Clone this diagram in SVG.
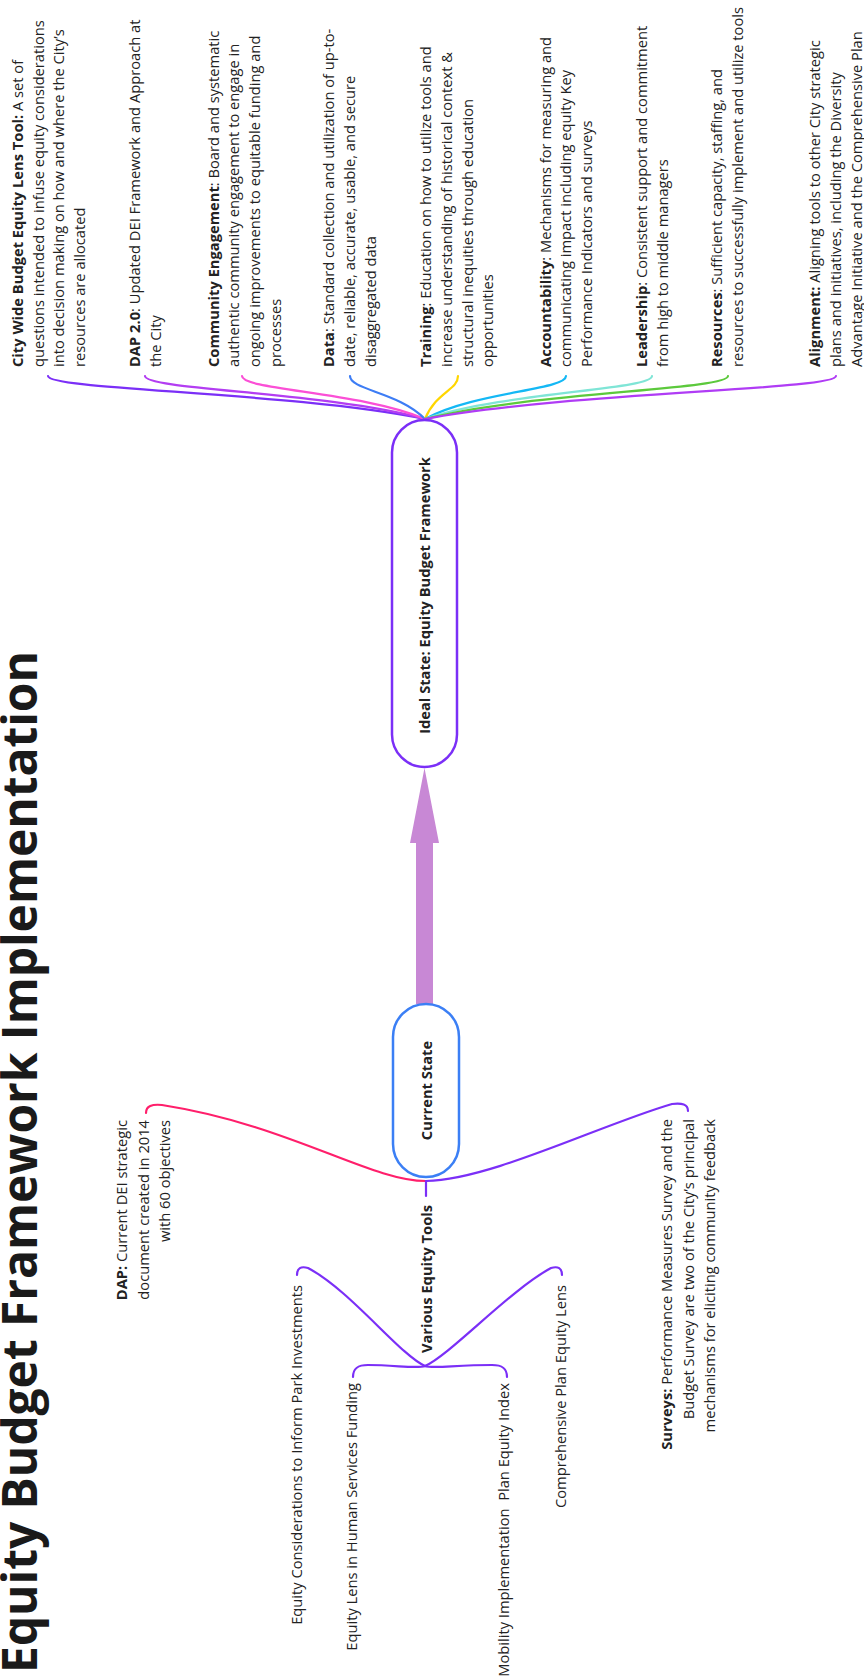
<svg xmlns="http://www.w3.org/2000/svg" width="864" height="1679" viewBox="0 0 864 1679">
<style>
.t{font-family:"Open Sans","Noto Sans","Liberation Sans",sans-serif;font-size:14.7px;fill:#222}
.b{font-weight:700}
.title{font-family:"Open Sans","Noto Sans","Liberation Sans",sans-serif;font-size:48px;font-weight:700;fill:#1a1a1a}
.c{fill:none;stroke-width:2.2;stroke-linecap:round}
.node{fill:#fff;stroke-width:2.5}
</style>
<rect width="864" height="1679" fill="#fff"/>
<g id="title">
<text class="title" transform="rotate(-90)" x="-1673" y="37" textLength="1022" lengthAdjust="spacing">Equity Budget Framework Implementation</text>
</g>
<g id="connectors">
<path class="c" stroke="#7b2ff7" d="M48,376 C48,390 293,392 425,419"/>
<path class="c" stroke="#b33df2" d="M145,376 C145,390 327,392 425,419"/>
<path class="c" stroke="#fb4fd6" d="M242,376 C242,390 361,392 425,419"/>
<path class="c" stroke="#3d7df5" d="M350,376 C350,390 399,392 425,419"/>
<path class="c" stroke="#ffd600" d="M458,376 C458,390 436,392 425,419"/>
<path class="c" stroke="#14b8f5" d="M566,376 C566,390 474,392 425,419"/>
<path class="c" stroke="#7fe5d6" d="M652,376 C652,390 504,392 425,419"/>
<path class="c" stroke="#5cc93c" d="M728,376 C728,390 531,392 425,419"/>
<path class="c" stroke="#b03cf5" d="M836,376 C836,390 569,392 425,419"/>
<path fill="#c888d5" d="M416,1004 L416,843 L410,843 L424.5,768 L439,843 L433,843 L433,1004 Z"/>
<path class="c" stroke="#ff1f6b" d="M146,1113 C146,1106 152,1104 162,1105 C290,1125 370,1181 426,1181"/>
<path class="c" stroke="#7b2ff7" d="M688,1111 C688,1104 682,1103 672,1104 C600,1125 490,1180 426,1181"/>
<path class="c" stroke="#7b2ff7" d="M426,1181 L426,1196"/>
<path class="c" stroke="#7b2ff7" d="M297,1275 C297,1268 301,1266 308,1268 C350,1290 400,1355 425,1366"/>
<path class="c" stroke="#7b2ff7" d="M353,1377 C353,1368 358,1365 368,1365 C395,1365 418,1369 425,1366"/>
<path class="c" stroke="#7b2ff7" d="M507,1377 C507,1368 502,1365 492,1365 C455,1365 432,1369 425,1366"/>
<path class="c" stroke="#7b2ff7" d="M562,1275 C562,1268 558,1266 551,1268 C510,1290 450,1355 425,1366"/>
</g>
<g id="ideal-state">
<rect class="node" stroke="#7b2ff7" x="392" y="420" width="65" height="347" rx="32.5"/>
<text class="t b" transform="rotate(-90)" x="-595.5" y="430" text-anchor="middle">Ideal State: Equity Budget Framework</text>
</g>
<g id="current-state">
<rect class="node" stroke="#3b7ff5" x="393" y="1004" width="66" height="173" rx="33"/>
<text class="t b" transform="rotate(-90)" x="-1090.5" y="432" text-anchor="middle">Current State</text>
</g>
<g id="city-wide">
<text class="t" transform="rotate(-90)"><tspan x="-367" y="23"><tspan class="b">City Wide Budget Equity Lens Tool:</tspan> A set of</tspan><tspan x="-367" y="43.6">questions intended to infuse equity considerations</tspan><tspan x="-367" y="64.2">into decision making on how and where the City’s</tspan><tspan x="-367" y="84.8">resources are allocated</tspan></text>
</g>
<g id="dap-2">
<text class="t" transform="rotate(-90)"><tspan x="-367" y="140"><tspan class="b">DAP 2.0</tspan>: Updated DEI Framework and Approach at</tspan><tspan x="-367" y="160.6">the City</tspan></text>
</g>
<g id="community-engagement">
<text class="t" transform="rotate(-90)"><tspan x="-367" y="218.5"><tspan class="b">Community Engagement</tspan>: Board and systematic</tspan><tspan x="-367" y="239.2">authentic community engagement to engage in</tspan><tspan x="-367" y="259.9">ongoing improvements to equitable funding and</tspan><tspan x="-367" y="280.6">processes</tspan></text>
</g>
<g id="data">
<text class="t" transform="rotate(-90)"><tspan x="-367" y="334"><tspan class="b">Data</tspan>: Standard collection and utilization of up-to-</tspan><tspan x="-367" y="354.8">date, reliable, accurate, usable, and secure</tspan><tspan x="-367" y="375.6">disaggregated data</tspan></text>
</g>
<g id="training">
<text class="t" transform="rotate(-90)"><tspan x="-367" y="431"><tspan class="b">Training</tspan>: Education on how to utilize tools and</tspan><tspan x="-367" y="451.8">increase understanding of historical context &amp;</tspan><tspan x="-367" y="472.6">structural inequities through education</tspan><tspan x="-367" y="493.4">opportunities</tspan></text>
</g>
<g id="accountability">
<text class="t" transform="rotate(-90)"><tspan x="-367" y="550.5"><tspan class="b">Accountability</tspan>: Mechanisms for measuring and</tspan><tspan x="-367" y="571.3">communicating impact including equity Key</tspan><tspan x="-367" y="592.1">Performance Indicators and surveys</tspan></text>
</g>
<g id="leadership">
<text class="t" transform="rotate(-90)"><tspan x="-367" y="647"><tspan class="b">Leadership</tspan>: Consistent support and commitment</tspan><tspan x="-367" y="667.8">from high to middle managers</tspan></text>
</g>
<g id="resources">
<text class="t" transform="rotate(-90)"><tspan x="-367" y="722"><tspan class="b">Resources</tspan>: Sufficient capacity, staffing, and</tspan><tspan x="-367" y="742.8">resources to successfully implement and utilize tools</tspan></text>
</g>
<g id="alignment">
<text class="t" transform="rotate(-90)"><tspan x="-367" y="820"><tspan class="b">Alignment:</tspan> Aligning tools to other City strategic</tspan><tspan x="-367" y="840.8">plans and initiatives, including the Diversity</tspan><tspan x="-367" y="861.6">Advantage Initiative and the Comprehensive Plan</tspan></text>
</g>
<g id="dap">
<text class="t" transform="rotate(-90)" text-anchor="end"><tspan x="-1120" y="127"><tspan class="b">DAP:</tspan> Current DEI strategic</tspan><tspan x="-1120" y="148.5">document created in 2014</tspan><tspan x="-1120" y="170">with 60 objectives</tspan></text>
</g>
<g id="surveys">
<text class="t" transform="rotate(-90)" text-anchor="end"><tspan x="-1119" y="672"><tspan class="b">Surveys:</tspan> Performance Measures Survey and the</tspan><tspan x="-1119" y="693.5">Budget Survey are two of the City’s principal</tspan><tspan x="-1119" y="715">mechanisms for eliciting community feedback</tspan></text>
</g>
<g id="various-equity-tools">
<text class="t b" transform="rotate(-90)" x="-1279" y="431.5" text-anchor="middle">Various Equity Tools</text>
</g>
<g id="park-investments">
<text class="t" transform="rotate(-90)" x="-1285" y="301.5" text-anchor="end">Equity Considerations to Inform Park Investments</text>
</g>
<g id="human-services">
<text class="t" transform="rotate(-90)" x="-1383" y="357" text-anchor="end">Equity Lens in Human Services Funding</text>
</g>
<g id="mobility">
<text class="t" transform="rotate(-90)" x="-1383" y="509" text-anchor="end" xml:space="preserve" style="white-space:pre">Mobility Implementation  Plan Equity Index</text>
</g>
<g id="comprehensive-plan">
<text class="t" transform="rotate(-90)" x="-1285" y="565.5" text-anchor="end">Comprehensive Plan Equity Lens</text>
</g>
</svg>
